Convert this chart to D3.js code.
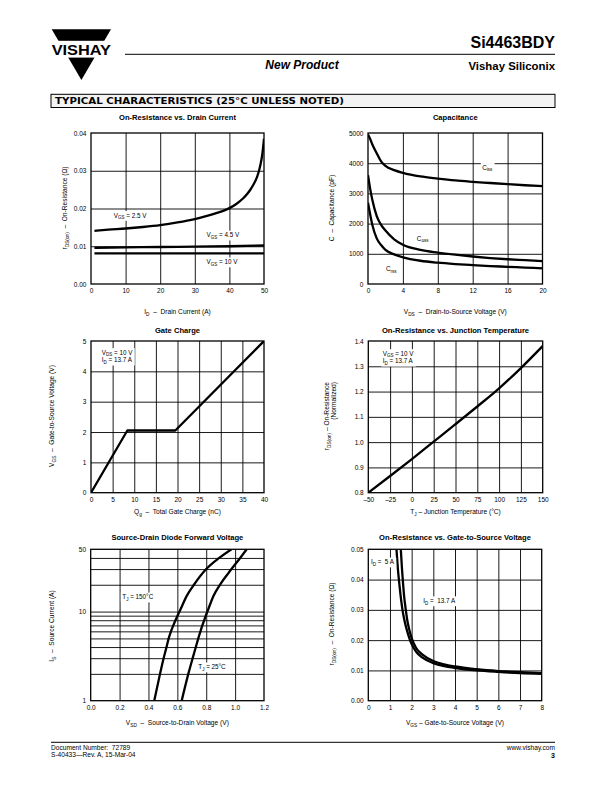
<!DOCTYPE html>
<html><head><meta charset="utf-8">
<script src="https://cdn.jsdelivr.net/npm/d3@7/dist/d3.min.js"></script>
<style>
body{margin:0;background:#fff}
svg{display:block}
text{font-family:"Liberation Sans",Arial,Helvetica,sans-serif;fill:#000;white-space:pre}
</style>
</head><body>
<svg id="page" width="612" height="792"></svg>
<script>
// ---------- DATA ----------
// Chart 1: On-Resistance vs. Drain Current
const c1Current = [1,5,10,15,20,25,30,33,36,38,40,42,44,45,46,47,48,48.5,49,49.5,50];
const c1Vgs25 = [0.0141,0.0144,0.0147,0.0151,0.0156,0.0163,0.0172,0.0179,0.0187,0.0193,0.0201,0.0212,0.0227,0.0237,0.0249,0.0264,0.0284,0.0298,0.0317,0.0343,0.0385];
const c1CurrentFlat = [1,10,20,30,40,50];
const c1Vgs45 = [0.0096,0.0097,0.0098,0.0099,0.0100,0.0102];
const c1Vgs10 = [0.0081,0.0081,0.0081,0.0081,0.0081,0.0081];
const c1XTicks = [0,10,20,30,40,50];
const c1YTicks = [0,0.01,0.02,0.03,0.04];

// Chart 2: Capacitance
const capVds = [0,0.25,0.5,1,1.5,2,3,4,6,8,10,12,14,16,18,20];
const capCiss = [4950,4800,4620,4330,4060,3910,3770,3680,3560,3490,3430,3385,3345,3305,3270,3240];
const capCoss = [3600,3150,2780,2250,1960,1770,1480,1300,1130,1040,970,910,860,820,790,760];
const capCrss = [2690,2300,1950,1510,1290,1130,980,885,770,705,660,625,595,570,545,520];
const c2XTicks = [0,4,8,12,16,20];
const c2YTicks = [0,1000,2000,3000,4000,5000];

// Chart 3: Gate Charge
const qgCharge = [0,8.4,19.5,40];
const qgVgs = [0,2.05,2.05,5];
const c3XTicks = [0,5,10,15,20,25,30,35,40];
const c3YTicks = [0,1,2,3,4,5];

// Chart 4: On-Resistance vs. Junction Temperature
const tjTemp = [-50,-25,0,25,50,75,100,125,150];
const tjRds = [0.800,0.866,0.933,1.002,1.071,1.141,1.213,1.293,1.380];
const c4XTicks = [-50,-25,0,25,50,75,100,125,150];
const c4YTicks = [0.8,0.9,1.0,1.1,1.2,1.3,1.4];

// Chart 5: Source-Drain Diode Forward Voltage
const sd150V = [0.44,0.48,0.505,0.525,0.54,0.556,0.572,0.587,0.601,0.615,0.665,0.715,0.80,0.89,0.975];
const sd150I = [1,2,3,4,5,6,7,8,9,10,15,20,30,40,50];
const sd25V = [0.63,0.676,0.706,0.728,0.745,0.76,0.773,0.786,0.797,0.808,0.85,0.895,0.975,1.035,1.08];
const sd25I = [1,2,3,4,5,6,7,8,9,10,15,20,30,40,50];
const c5XTicks = [0,0.2,0.4,0.6,0.8,1.0,1.2];
const c5YTicks = [1,10,50];
const c5YGrid = [2,3,4,5,6,7,8,9,10,20,30,40];

// Chart 6: On-Resistance vs. Gate-to-Source Voltage
const vgs5A = [1.30,1.36,1.44,1.52,1.6,1.7,1.8,1.9,2.0,2.2,2.5,3,3.5,4,5,6,7,8];
const rds5A = [0.05,0.044,0.038,0.033,0.029,0.0255,0.0228,0.0205,0.0187,0.0162,0.0142,0.0124,0.0114,0.0108,0.0100,0.0095,0.0091,0.0089];
const vgs137A = [1.50,1.55,1.6,1.66,1.73,1.8,1.9,2.0,2.2,2.5,3,3.5,4,5,6,7,8];
const rds137A = [0.05,0.044,0.039,0.034,0.030,0.0265,0.0232,0.0207,0.0175,0.0152,0.0131,0.0120,0.0113,0.0104,0.0098,0.0094,0.0091];
const c6XTicks = [0,1,2,3,4,5,6,7,8];
const c6YTicks = [0,0.01,0.02,0.03,0.04,0.05];

// ---------- DRAWING ----------
const svg = d3.select("#page");
const defs = svg.append("defs");
const FONT = '"Liberation Sans",Arial,Helvetica,sans-serif';

function rich(t, parts, fs){
  let shifted = false;
  parts.forEach(p=>{
    const isSub = Array.isArray(p);
    const s = isSub ? p[0] : p;
    const ts = t.append("tspan").text(s);
    if(isSub){
      ts.attr("font-size", fs*0.72);
      if(!shifted){ ts.attr("dy", fs*0.28); shifted = true; }
    } else {
      ts.attr("font-size", fs);
      if(shifted){ ts.attr("dy", -fs*0.28); shifted = false; }
    }
  });
  return t;
}

function note(g, x, y, lines, fs, lh){
  const ng = g.append("g");
  const bg = ng.append("rect").attr("fill","#fff");
  lines.forEach((ln,i)=>{
    const t = ng.append("text").attr("x",x).attr("y",y+i*lh).attr("font-size",fs);
    rich(t, ln, fs);
  });
  const bb = ng.node().getBBox();
  bg.attr("x",bb.x-1.5).attr("y",bb.y-0.5).attr("width",bb.width+3).attr("height",bb.height+1);
}

let clipN = 0;
function chart(c){
  const g = svg.append("g");
  const x = d3.scaleLinear().domain(c.xDomain).range([c.x0,c.x1]);
  const y = (c.yLog ? d3.scaleLog() : d3.scaleLinear()).domain(c.yDomain).range([c.y1,c.y0]);
  const w = c.x1-c.x0, h = c.y1-c.y0;

  // grid
  g.append("g").attr("transform",`translate(0,${c.y1})`)
    .call(d3.axisBottom(x).tickValues(c.xGrid).tickSize(-h).tickFormat(""))
    .call(s=>s.select(".domain").remove())
    .selectAll("line").attr("stroke","#000").attr("stroke-width",0.9);
  g.append("g").attr("transform",`translate(${c.x0},0)`)
    .call(d3.axisLeft(y).tickValues(c.yGrid).tickSize(-w).tickFormat(""))
    .call(s=>s.select(".domain").remove())
    .selectAll("line").attr("stroke","#000").attr("stroke-width",0.9);

  // tick labels
  const xa = g.append("g").attr("transform",`translate(0,${c.y1})`)
    .call(d3.axisBottom(x).tickValues(c.xTicks).tickSize(0).tickPadding(4.2).tickFormat(c.xFmt));
  xa.select(".domain").remove();
  xa.attr("font-family",FONT).attr("font-size",6.5);
  xa.selectAll("text").attr("fill","#000");
  const ya = g.append("g").attr("transform",`translate(${c.x0},0)`)
    .call(d3.axisLeft(y).tickValues(c.yTicks).tickSize(0).tickPadding(4.6).tickFormat(c.yFmt));
  ya.select(".domain").remove();
  ya.attr("font-family",FONT).attr("font-size",6.5);
  ya.selectAll("text").attr("fill","#000");

  // series
  const cid = "clip"+(clipN++);
  defs.append("clipPath").attr("id",cid).append("rect")
    .attr("x",c.x0).attr("y",c.y0).attr("width",w).attr("height",h);
  c.series.forEach(s=>{
    const pts = s.x.map((v,i)=>[v,s.y[i]]);
    g.append("path").datum(pts)
      .attr("d", d3.line().x(d=>x(d[0])).y(d=>y(d[1])).curve(s.curve || d3.curveMonotoneX))
      .attr("fill","none").attr("stroke","#000").attr("stroke-width",2.3)
      .attr("stroke-linejoin","round")
      .attr("clip-path",`url(#${cid})`);
  });

  // notes
  (c.notes||[]).forEach(n=>{
    note(g, x(n.x), y(n.y), n.lines, 6.3, 7.6);
  });

  // frame
  g.append("rect").attr("x",c.x0).attr("y",c.y0).attr("width",w).attr("height",h)
    .attr("fill","none").attr("stroke","#000").attr("stroke-width",1.3);

  // title
  g.append("text").attr("x",(c.x0+c.x1)/2).attr("y",c.titleY).attr("text-anchor","middle")
    .attr("font-size",7.6).attr("font-weight","bold").text(c.title);
  // x label
  rich(g.append("text").attr("x",(c.x0+c.x1)/2).attr("y",c.xLabelY).attr("text-anchor","middle"), c.xLabel, 6.6);
  // y label(s)
  c.yLabels.forEach(yl=>{
    rich(g.append("text").attr("transform",`translate(${yl.x},${yl.y}) rotate(-90)`)
      .attr("text-anchor",yl.anchor||"middle"), yl.parts, 6.6);
  });
}

const fmt2 = d3.format(".2f"), fmt1 = d3.format(".1f"), fmt0 = d3.format("d");
const fmtT = v => v<0 ? "–"+Math.abs(v) : String(v);

// Chart 1
chart({
  x0:91, x1:264, y0:133, y1:284,
  xDomain:[0,50], yDomain:[0,0.04],
  xTicks:c1XTicks, yTicks:c1YTicks, xGrid:[10,20,30,40], yGrid:[0.01,0.02,0.03],
  xFmt:fmt0, yFmt:fmt2,
  series:[{x:c1Current,y:c1Vgs25},{x:c1CurrentFlat,y:c1Vgs45},{x:c1CurrentFlat,y:c1Vgs10}],
  notes:[
    {x:6.6,y:0.0176,lines:[["V",["GS"]," = 2.5 V"]]},
    {x:33.4,y:0.0124,lines:[["V",["GS"]," = 4.5 V"]]},
    {x:33.4,y:0.0053,lines:[["V",["GS"]," = 10 V"]]}
  ],
  title:"On-Resistance vs. Drain Current", titleY:120,
  xLabel:["I",["D"],"  –  Drain Current (A)"], xLabelY:314,
  yLabels:[{x:67,y:208,parts:["r",["DS(on)"],"  –  On-Resistance (Ω)"]}]
});

// Chart 2
chart({
  x0:368, x1:542.5, y0:133, y1:284,
  xDomain:[0,20], yDomain:[0,5000],
  xTicks:c2XTicks, yTicks:c2YTicks, xGrid:[4,8,12,16], yGrid:[1000,2000,3000,4000],
  xFmt:fmt0, yFmt:fmt0,
  series:[{x:capVds,y:capCiss},{x:capVds,y:capCoss},{x:capVds,y:capCrss}],
  notes:[
    {x:13.1,y:3790,lines:[["C",["iss"]]]},
    {x:5.6,y:1440,lines:[["C",["oss"]]]},
    {x:2.07,y:414,lines:[["C",["rss"]]]}
  ],
  title:"Capacitance", titleY:120,
  xLabel:["V",["DS"],"  –  Drain-to-Source Voltage (V)"], xLabelY:314,
  yLabels:[{x:334,y:208,parts:["C  –  Capacitance (pF)"]}]
});

// Chart 3
chart({
  x0:91, x1:264, y0:341, y1:492.7,
  xDomain:[0,40], yDomain:[0,5],
  xTicks:c3XTicks, yTicks:c3YTicks, xGrid:[5,10,15,20,25,30,35], yGrid:[1,2,3,4],
  xFmt:fmt0, yFmt:fmt0,
  series:[{x:qgCharge,y:qgVgs,curve:d3.curveLinear}],
  notes:[
    {x:2.5,y:4.55,lines:[["V",["DS"]," = 10 V"],["I",["D"]," = 13.7 A"]]}
  ],
  title:"Gate Charge", titleY:332.5,
  xLabel:["Q",["g"],"  –  Total Gate Charge (nC)"], xLabelY:514,
  yLabels:[{x:54,y:416,parts:["V",["GS"],"  –  Gate-to-Source Voltage (V)"]}]
});

// Chart 4
chart({
  x0:368.3, x1:542.7, y0:341, y1:492.7,
  xDomain:[-50,150], yDomain:[0.8,1.4],
  xTicks:c4XTicks, yTicks:c4YTicks, xGrid:[-25,0,25,50,75,100,125], yGrid:[0.9,1.0,1.1,1.2,1.3],
  xFmt:fmtT, yFmt:fmt1,
  series:[{x:tjTemp,y:tjRds}],
  notes:[
    {x:-33.5,y:1.342,lines:[["V",["GS"]," = 10 V"],["I",["D"]," = 13.7 A"]]}
  ],
  title:"On-Resistance vs. Junction Temperature", titleY:332.5,
  xLabel:["T",["J"]," – Junction Temperature (°C)"], xLabelY:514,
  yLabels:[
    {x:329,y:382,anchor:"end",parts:["r",["DS(on)"]," – On-Resistance"]},
    {x:335.5,y:382,anchor:"end",parts:["(Normalized)"]}
  ]
});

// Chart 5
chart({
  x0:90.7, x1:264, y0:549.3, y1:700.7,
  xDomain:[0,1.2], yDomain:[1,50], yLog:true,
  xTicks:c5XTicks, yTicks:c5YTicks, xGrid:[0.2,0.4,0.6,0.8,1.0], yGrid:c5YGrid,
  xFmt:fmt1, yFmt:fmt0,
  series:[{x:sd150V,y:sd150I},{x:sd25V,y:sd25I}],
  notes:[
    {x:0.219,y:13.8,lines:[["T",["J"]," = 150°C"]]},
    {x:0.745,y:2.27,lines:[["T",["J"]," = 25°C"]]}
  ],
  title:"Source-Drain Diode Forward Voltage", titleY:540,
  xLabel:["V",["SD"],"  –  Source-to-Drain Voltage (V)"], xLabelY:725,
  yLabels:[{x:54,y:626,parts:["I",["S"],"  –  Source Current (A)"]}]
});

// Chart 6
chart({
  x0:368.3, x1:541.7, y0:549.3, y1:700.7,
  xDomain:[0,8], yDomain:[0,0.05],
  xTicks:c6XTicks, yTicks:c6YTicks, xGrid:[1,2,3,4,5,6,7], yGrid:[0.01,0.02,0.03,0.04],
  xFmt:fmt0, yFmt:fmt2,
  series:[{x:vgs5A,y:rds5A},{x:vgs137A,y:rds137A}],
  notes:[
    {x:0.12,y:0.0451,lines:[["I",["D"]," =  5 A"]]},
    {x:2.54,y:0.0323,lines:[["I",["D"]," =  13.7 A"]]}
  ],
  title:"On-Resistance vs. Gate-to-Source Voltage", titleY:540,
  xLabel:["V",["GS"]," – Gate-to-Source Voltage (V)"], xLabelY:725,
  yLabels:[{x:334,y:624,parts:["r",["DS(on)"],"  –  On-Resistance (Ω)"]}]
});

// ---------- HEADER ----------
const hd = svg.append("g");
hd.append("polygon").attr("points","51.7,29.3 111,29.3 81.4,80").attr("fill","#000");
hd.append("rect").attr("x",48).attr("y",40.8).attr("width",66).attr("height",16.8).attr("fill","#fff");
hd.append("text").attr("x",51.7).attr("y",55.3).attr("font-size",15).attr("font-weight","bold")
  .attr("textLength",59.3).attr("lengthAdjust","spacingAndGlyphs").text("VISHAY");
hd.append("line").attr("x1",125).attr("x2",555).attr("y1",54.3).attr("y2",54.3).attr("stroke","#000").attr("stroke-width",1);
hd.append("text").attr("x",555).attr("y",48).attr("text-anchor","end").attr("font-size",16).attr("font-weight","bold").text("Si4463BDY");
hd.append("text").attr("x",555).attr("y",69.5).attr("text-anchor","end").attr("font-size",11.4).attr("font-weight","bold").text("Vishay Siliconix");
hd.append("text").attr("x",302).attr("y",68.5).attr("text-anchor","middle").attr("font-size",12).attr("font-weight","bold").attr("font-style","italic").text("New Product");
hd.append("rect").attr("x",51).attr("y",94.3).attr("width",504).attr("height",13.2).attr("fill","#f3f3f3").attr("stroke","#000").attr("stroke-width",1);
hd.append("text").attr("x",55).attr("y",104.2).attr("font-size",8.3).attr("font-weight","bold")
  .style("font-family",'"DejaVu Sans",Arial,sans-serif')
  .attr("textLength",289).attr("lengthAdjust","spacingAndGlyphs").text("TYPICAL CHARACTERISTICS (25°C UNLESS NOTED)");

// ---------- FOOTER ----------
const ft = svg.append("g");
ft.append("line").attr("x1",51).attr("x2",555).attr("y1",742.3).attr("y2",742.3).attr("stroke","#000").attr("stroke-width",1);
ft.append("text").attr("x",51).attr("y",750).attr("font-size",6.6).text("Document Number:  72789");
ft.append("text").attr("x",51).attr("y",757).attr("font-size",6.6).text("S-40433—Rev. A, 15-Mar-04");
ft.append("text").attr("x",555).attr("y",750).attr("text-anchor","end").attr("font-size",6.6).text("www.vishay.com");
ft.append("text").attr("x",555).attr("y",758).attr("text-anchor","end").attr("font-size",7).attr("font-weight","bold").text("3");
</script>
</body></html>
